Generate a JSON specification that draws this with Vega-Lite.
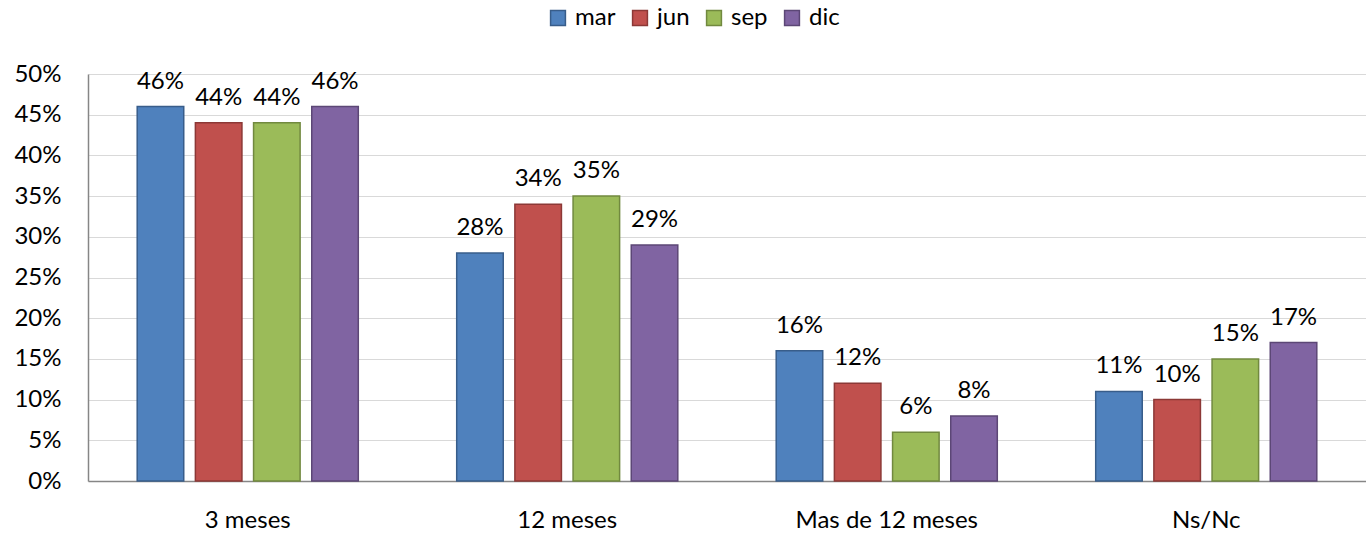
{
  "$schema": "https://vega.github.io/schema/vega-lite/v6.json",
  "width": 1278,
  "height": 407,
  "autosize": {"type": "none"},
  "padding": {"left": 88, "top": 74, "right": 0, "bottom": 57},
  "background": "white",
  "config": {
    "view": {"stroke": null},
    "font": "Lato",
    "text": {"font": "Lato"}
  },
  "data": {
    "values": [
      {"cat": "3 meses", "serie": "mar", "v": 0.46},
      {"cat": "3 meses", "serie": "jun", "v": 0.44},
      {"cat": "3 meses", "serie": "sep", "v": 0.44},
      {"cat": "3 meses", "serie": "dic", "v": 0.46},
      {"cat": "12 meses", "serie": "mar", "v": 0.28},
      {"cat": "12 meses", "serie": "jun", "v": 0.34},
      {"cat": "12 meses", "serie": "sep", "v": 0.35},
      {"cat": "12 meses", "serie": "dic", "v": 0.29},
      {"cat": "Mas de 12 meses", "serie": "mar", "v": 0.16},
      {"cat": "Mas de 12 meses", "serie": "jun", "v": 0.12},
      {"cat": "Mas de 12 meses", "serie": "sep", "v": 0.06},
      {"cat": "Mas de 12 meses", "serie": "dic", "v": 0.08},
      {"cat": "Ns/Nc", "serie": "mar", "v": 0.11},
      {"cat": "Ns/Nc", "serie": "jun", "v": 0.10},
      {"cat": "Ns/Nc", "serie": "sep", "v": 0.15},
      {"cat": "Ns/Nc", "serie": "dic", "v": 0.17}
    ]
  },
  "encoding": {
    "x": {
      "field": "cat", "type": "nominal", "sort": null, "title": null,
      "scale": {"paddingInner": 0.308, "paddingOuter": 0.154},
      "axis": {"labelAngle": 0, "labelFontSize": 24, "labelColor": "#000000", "labelPadding": 27, "labelLimit": 0, "ticks": false, "domainColor": "#868686", "domainWidth": 1.5, "grid": false}
    },
    "xOffset": {
      "field": "serie", "type": "nominal", "sort": ["mar", "jun", "sep", "dic"],
      "scale": {"paddingInner": 0.2, "paddingOuter": 0}
    },
    "y": {
      "field": "v", "type": "quantitative", "title": null,
      "scale": {"domain": [0, 0.5], "nice": false},
      "axis": {"format": ".0%", "values": [0, 0.05, 0.1, 0.15, 0.2, 0.25, 0.3, 0.35, 0.4, 0.45, 0.5], "labelFontSize": 24, "labelColor": "#000000", "labelPadding": 27, "ticks": false, "domainColor": "#868686", "domainWidth": 1.5, "gridColor": "#d9d9d9", "gridWidth": 1.2}
    }
  },
  "layer": [
    {
      "mark": {"type": "bar", "strokeWidth": 1.5},
      "encoding": {
        "fill": {
          "field": "serie", "type": "nominal", "sort": ["mar", "jun", "sep", "dic"], "title": null,
          "scale": {"domain": ["mar", "jun", "sep", "dic"], "range": ["#4F81BD", "#C0504D", "#9BBB59", "#8064A2"]},
          "legend": {"orient": "none", "legendX": 458, "legendY": -68, "direction": "horizontal", "symbolType": "square", "symbolSize": 220, "symbolStrokeWidth": 1.5, "labelFontSize": 24, "labelColor": "#000000", "labelLimit": 0, "columnPadding": 12, "labelOffset": 5}
        },
        "stroke": {
          "field": "serie", "type": "nominal", "sort": ["mar", "jun", "sep", "dic"], "title": null,
          "scale": {"domain": ["mar", "jun", "sep", "dic"], "range": ["#385D8A", "#8C3836", "#71893F", "#5C4776"]}
        }
      }
    },
    {
      "mark": {"type": "text", "baseline": "alphabetic", "dy": -18, "fontSize": 24, "color": "#000000"},
      "encoding": {
        "text": {"field": "v", "type": "quantitative", "format": ".0%"}
      }
    }
  ]
}
